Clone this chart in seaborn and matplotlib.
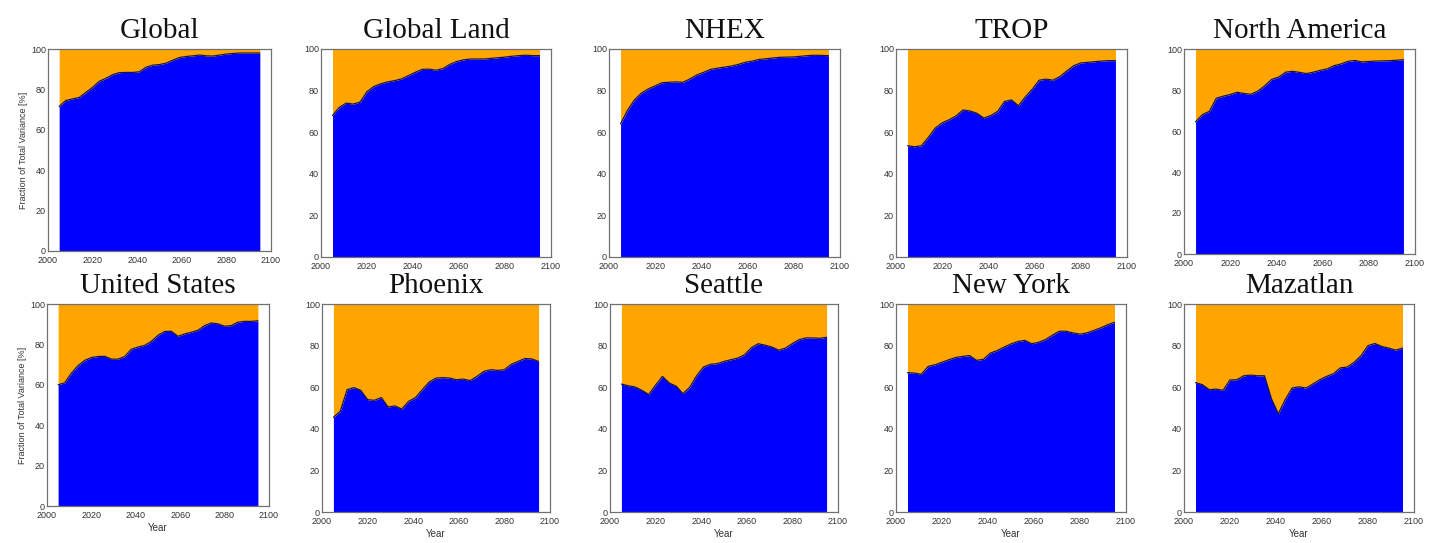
import numpy as np
import pandas as pd
import matplotlib
matplotlib.use("Agg")
import matplotlib.pyplot as plt
import seaborn as sns

# Years of the running-window estimate
years = list(range(2005, 2096, 3))

# Fraction of total variance explained by the forced signal [%]
global_all = [71.5, 74.5, 75.3, 76.0, 78.5, 81.0, 84.0, 85.5, 87.3, 88.3, 88.4, 88.4, 88.7, 91.0, 92.0, 92.3,
              93.0, 94.5, 95.8, 96.3, 96.6, 97.0, 96.6, 96.5, 97.0, 97.5, 97.8, 98.0, 98.0, 98.0, 98.0]
global_land = [68.0, 72.0, 74.0, 73.5, 74.5, 79.5, 82.0, 83.3, 84.2, 84.8, 85.6, 87.2, 88.8, 90.2, 90.3, 89.8,
               90.6, 92.6, 94.0, 94.8, 95.2, 95.2, 95.2, 95.5, 95.8, 96.1, 96.5, 96.8, 97.0, 96.8, 96.8]
nhex = [64.0, 70.5, 75.5, 78.8, 80.8, 82.3, 83.8, 84.0, 84.2, 84.0, 85.6, 87.5, 88.8, 90.2, 90.8, 91.3,
        91.8, 92.6, 93.6, 94.2, 95.0, 95.3, 95.7, 96.0, 96.1, 96.2, 96.5, 96.8, 97.0, 96.9, 96.8]
trop = [53.5, 53.0, 53.5, 57.5, 62.0, 64.5, 66.0, 67.8, 70.7, 70.2, 69.1, 66.8, 68.0, 70.0, 74.8, 75.5,
        72.7, 77.0, 80.7, 85.0, 85.5, 85.0, 86.8, 89.5, 92.0, 93.3, 93.6, 93.9, 94.2, 94.4, 94.4]
north_america = [64.5, 68.0, 69.6, 76.0, 77.0, 77.8, 78.9, 78.3, 77.9, 79.5, 82.1, 85.2, 86.3, 88.7, 89.1, 88.6,
                 88.0, 88.7, 89.6, 90.3, 91.9, 92.7, 94.0, 94.4, 93.7, 93.9, 94.1, 94.2, 94.3, 94.5, 94.8]
united_states = [60.0, 61.0, 65.8, 69.5, 72.1, 73.5, 74.0, 74.1, 72.7, 72.7, 74.0, 77.6, 78.7, 79.5, 81.5, 84.5,
                 86.4, 86.5, 84.0, 85.2, 86.0, 87.0, 89.3, 90.6, 90.2, 89.0, 89.3, 91.0, 91.4, 91.4, 91.7]
phoenix = [45.5, 48.4, 58.8, 59.8, 58.5, 54.0, 53.7, 55.0, 50.5, 51.0, 49.5, 53.2, 55.0, 58.8, 62.5, 64.4,
           64.6, 64.4, 63.6, 63.9, 63.2, 65.2, 67.6, 68.4, 68.1, 68.4, 71.0, 72.4, 73.8, 73.6, 72.4]
seattle = [61.5, 60.7, 60.1, 58.5, 56.5, 61.0, 65.2, 62.0, 60.5, 56.9, 60.0, 65.5, 69.7, 71.0, 71.3, 72.4,
           73.2, 74.0, 75.6, 79.0, 80.9, 80.2, 79.3, 77.8, 78.8, 81.0, 82.9, 83.7, 83.7, 83.5, 84.0]
new_york = [67.0, 66.8, 66.2, 70.0, 70.8, 72.0, 73.2, 74.3, 74.8, 75.2, 72.9, 73.4, 76.4, 77.6, 79.3, 80.8,
            82.0, 82.5, 80.9, 81.6, 82.9, 85.0, 86.9, 86.9, 86.1, 85.5, 86.1, 87.3, 88.5, 90.0, 91.2]
mazatlan = [62.2, 61.2, 58.8, 59.1, 58.5, 63.5, 63.6, 65.5, 65.8, 65.5, 65.5, 54.5, 47.2, 54.0, 59.6, 60.2,
            59.6, 61.5, 63.6, 65.2, 66.5, 69.3, 69.7, 72.0, 75.2, 80.0, 81.0, 79.6, 78.8, 77.8, 78.8]

region_names = ["Global", "Global Land", "NHEX", "TROP", "North America",
                "United States", "Phoenix", "Seattle", "New York", "Mazatlan"]
region_values = [global_all, global_land, nhex, trop, north_america,
                 united_states, phoenix, seattle, new_york, mazatlan]

x_ticks = [2000, 2020, 2040, 2060, 2080, 2100]
y_ticks = [0, 20, 40, 60, 80, 100]

BLUE = "#0000ff"
ORANGE = "#ffa500"

sns.set_style("white")
plt.rcParams["font.family"] = ["Liberation Sans", "DejaVu Sans"]

W, H = 1431, 543
fig = plt.figure(figsize=(W / 100, H / 100), dpi=100)

# panel boxes in pixels: left, top, right, bottom
boxes = [(48, 49, 271, 251), (321, 49, 551, 257), (609, 49, 840, 257),
         (896, 49, 1127, 257), (1184, 49, 1415, 254),
         (47, 304, 269, 506), (322, 304, 550, 512), (610, 304, 838, 512),
         (896, 304, 1126, 512), (1184, 304, 1414, 512)]

for i, (name, vals) in enumerate(zip(region_names, region_values)):
    l, t, r, b = boxes[i]
    ax = fig.add_axes([l / W, 1 - b / H, (r - l) / W, (b - t) / H])
    df = pd.DataFrame({"year": years, "frac": vals})
    ax.fill_between(df["year"], 0, df["frac"], color=BLUE, linewidth=0, zorder=1)
    ax.fill_between(df["year"], df["frac"], 100, color=ORANGE, linewidth=0, zorder=1)
    sns.lineplot(data=df, x="year", y="frac", ax=ax, color="#141450", linewidth=0.9, zorder=2)

    ax.set_xlim(2000, 2100)
    ax.set_ylim(0, 100)
    ax.set_xticks(x_ticks)
    ax.set_yticks(y_ticks)
    ax.set_xticks(range(2010, 2100, 20), minor=True)
    ax.set_yticks(range(10, 100, 20), minor=True)
    ax.tick_params(axis="x", which="major", pad=3.5)
    ax.tick_params(axis="y", which="major", pad=1.5)
    ax.tick_params(axis="both", which="major", direction="in", length=3, width=0.6,
                   labelsize=6.5, labelcolor="#333333", color="#444444")
    ax.tick_params(axis="both", which="minor", direction="in", length=1.5, width=0.5,
                   color="#444444")
    for sp in ax.spines.values():
        sp.set_color("#707070")
        sp.set_linewidth(0.9)
        sp.set_zorder(3)

    ax.set_title(name, fontsize=21, family=["Liberation Serif", "DejaVu Serif"],
                 color="#111111", pad=8)
    ax.set_xlabel("Year" if i >= 5 else "", fontsize=7, color="#333333", labelpad=2.5)
    ax.set_ylabel("Fraction of Total Variance [%]" if i % 5 == 0 else "",
                  fontsize=6.5, color="#333333", labelpad=2)

fig.savefig("out.png", dpi=100, facecolor="white")
